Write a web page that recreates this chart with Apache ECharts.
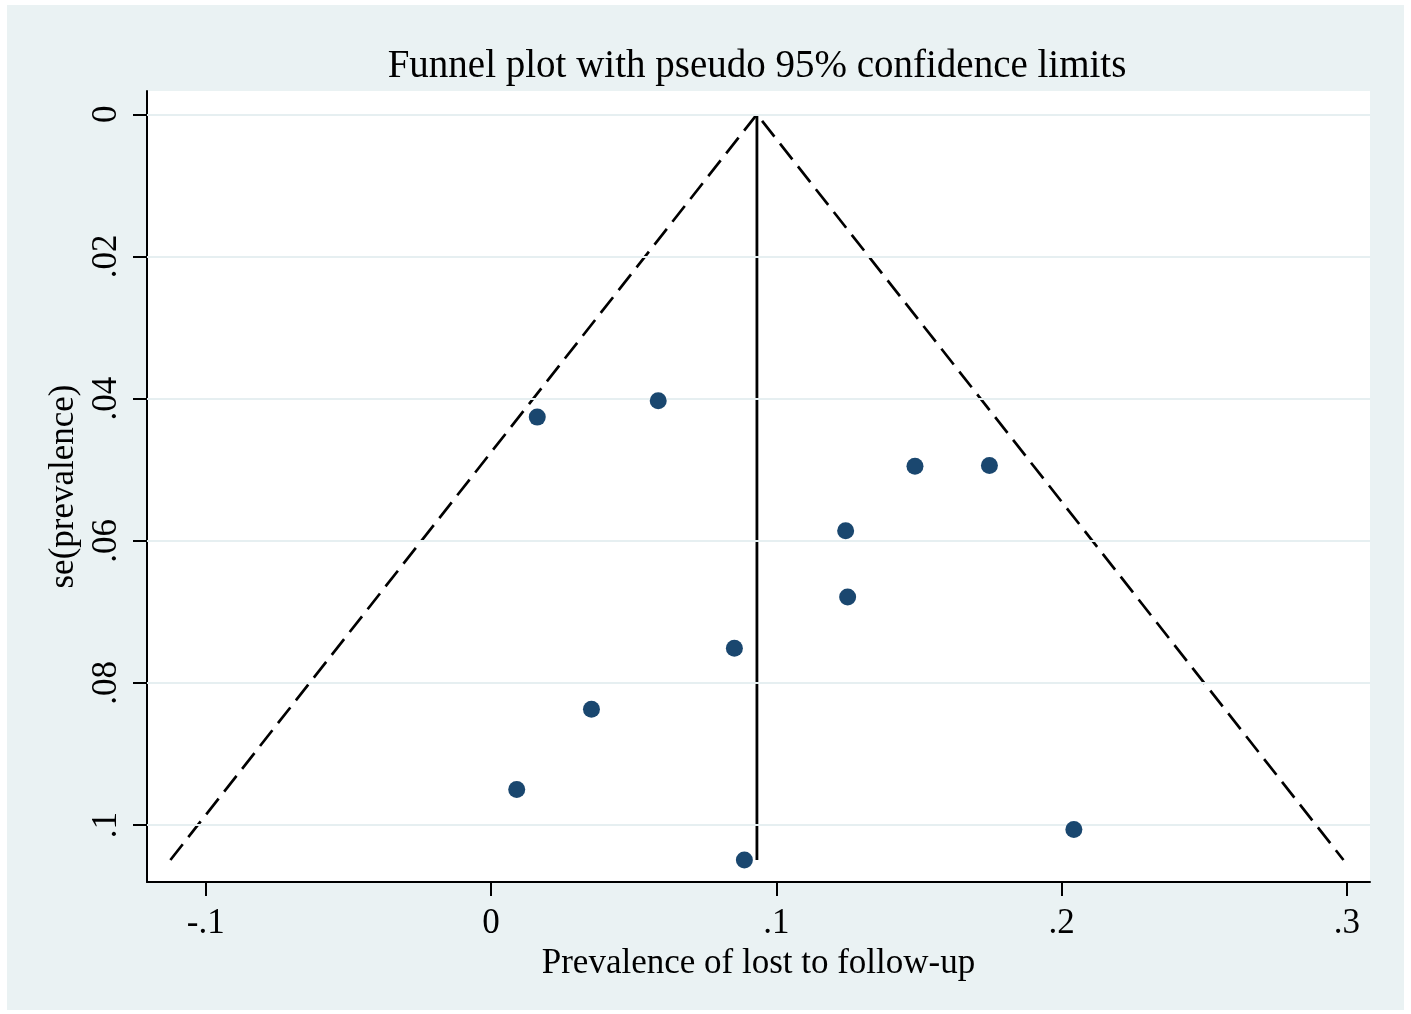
<!DOCTYPE html>
<html>
<head>
<meta charset="utf-8">
<script src="https://cdn.jsdelivr.net/npm/echarts@6/dist/echarts.min.js"></script>
<style>
html,body{margin:0;padding:0;background:#fff;}
#chart{width:1411px;height:1014px;}
</style>
</head>
<body>
<div id="chart"></div>
<script>
// ---- data ----
const titleText = 'Funnel plot with pseudo 95% confidence limits';
const xAxisName = 'Prevalence of lost to follow-up';
const yAxisName = 'se(prevalence)';
const xTickValues = [-0.1, 0, 0.1, 0.2, 0.3];
const xTickLabels = ['-.1', '0', '.1', '.2', '.3'];
const yTickValues = [0, 0.02, 0.04, 0.06, 0.08, 0.1];
const yTickLabels = ['0', '.02', '.04', '.06', '.08', '.1'];
const prevalence   = [0.0162, 0.0586, 0.1486, 0.1747, 0.1243, 0.1250, 0.0853, 0.0352, 0.0090, 0.0888, 0.2043];
const sePrevalence = [0.0426, 0.0403, 0.0495, 0.0494, 0.0586, 0.0679, 0.0751, 0.0837, 0.0950, 0.1049, 0.1006];
const pooledEstimate = 0.0932;
const funnelMaxSe = 0.1049;
const zCrit = 1.96;

// ---- build ----
const points = prevalence.map((p, i) => [p, sePrevalence[i]]);
const funnel = [
  [pooledEstimate - zCrit * funnelMaxSe, funnelMaxSe],
  [pooledEstimate, 0],
  [pooledEstimate + zCrit * funnelMaxSe, funnelMaxSe]
];
const centerLine = [[pooledEstimate, 0], [pooledEstimate, funnelMaxSe]];
const fontFam = '"Liberation Serif", "Times New Roman", serif';
const lblX = v => { const i = xTickValues.findIndex(t => Math.abs(t - v) < 1e-9); return i >= 0 ? xTickLabels[i] : ''; };
const lblY = v => { const i = yTickValues.findIndex(t => Math.abs(t - v) < 1e-9); return i >= 0 ? yTickLabels[i] : ''; };

const chart = echarts.init(document.getElementById('chart'), null, {renderer: 'canvas'});
chart.setOption({
  backgroundColor: '#ffffff',
  animation: false,
  graphic: [{
    type: 'rect', z: -10, silent: true,
    shape: {x: 7, y: 5, width: 1397, height: 1005},
    style: {fill: '#eaf2f3'}
  }],
  title: {
    text: titleText,
    left: 752, top: 42, textAlign: 'center',
    textStyle: {fontFamily: fontFam, fontSize: 39, fontWeight: 'normal', color: '#000', lineHeight: 39}
  },
  grid: {
    left: 147, right: 41, top: 91, bottom: 132,
    show: true, backgroundColor: '#ffffff', borderWidth: 0
  },
  xAxis: {
    type: 'value',
    min: -0.1206, max: 0.3081,
    name: xAxisName, nameLocation: 'middle', nameGap: 51,
    nameTextStyle: {fontFamily: fontFam, fontSize: 35, color: '#000', lineHeight: 35},
    axisLine: {show: true, onZero: false, lineStyle: {color: '#000', width: 2}},
    axisTick: {show: true, inside: false, length: 14, customValues: xTickValues, lineStyle: {color: '#000', width: 2}},
    axisLabel: {show: true, margin: 24, customValues: xTickValues, formatter: lblX,
      fontFamily: fontFam, fontSize: 35, color: '#000', lineHeight: 35},
    splitLine: {show: false}
  },
  yAxis: {
    type: 'value', inverse: true,
    min: -0.00328, max: 0.1080,
    name: yAxisName, nameLocation: 'middle', nameGap: 64, nameRotate: 90,
    nameTextStyle: {fontFamily: fontFam, fontSize: 35, color: '#000', lineHeight: 35},
    axisLine: {show: true, onZero: false, lineStyle: {color: '#000', width: 2}},
    axisTick: {show: true, inside: false, length: 14, customValues: yTickValues, lineStyle: {color: '#000', width: 2}},
    axisLabel: {show: true, rotate: 90, margin: 23, customValues: yTickValues, formatter: lblY,
      fontFamily: fontFam, fontSize: 35, color: '#000', lineHeight: 35},
    splitLine: {show: false}
  },
  series: [
    {
      type: 'line', data: [], z: 1, silent: true,
      markLine: {
        silent: true, symbol: 'none', animation: false,
        label: {show: false},
        lineStyle: {color: '#e6eff1', width: 2, type: 'solid', opacity: 1},
        data: yTickValues.map(v => ({yAxis: v}))
      }
    },
    {
      type: 'line', data: funnel, z: 3, silent: true,
      symbol: 'none',
      lineStyle: {color: '#000', width: 2.7, type: [20, 9], opacity: 1}
    },
    {
      type: 'line', data: centerLine, z: 3, silent: true,
      symbol: 'none',
      lineStyle: {color: '#000', width: 2.8, type: 'solid', opacity: 1}
    },
    {
      type: 'scatter', data: points, z: 5, silent: true,
      symbol: 'circle', symbolSize: 17,
      itemStyle: {color: '#1a476f', borderWidth: 0, opacity: 1}
    }
  ]
});
</script>
</body>
</html>
